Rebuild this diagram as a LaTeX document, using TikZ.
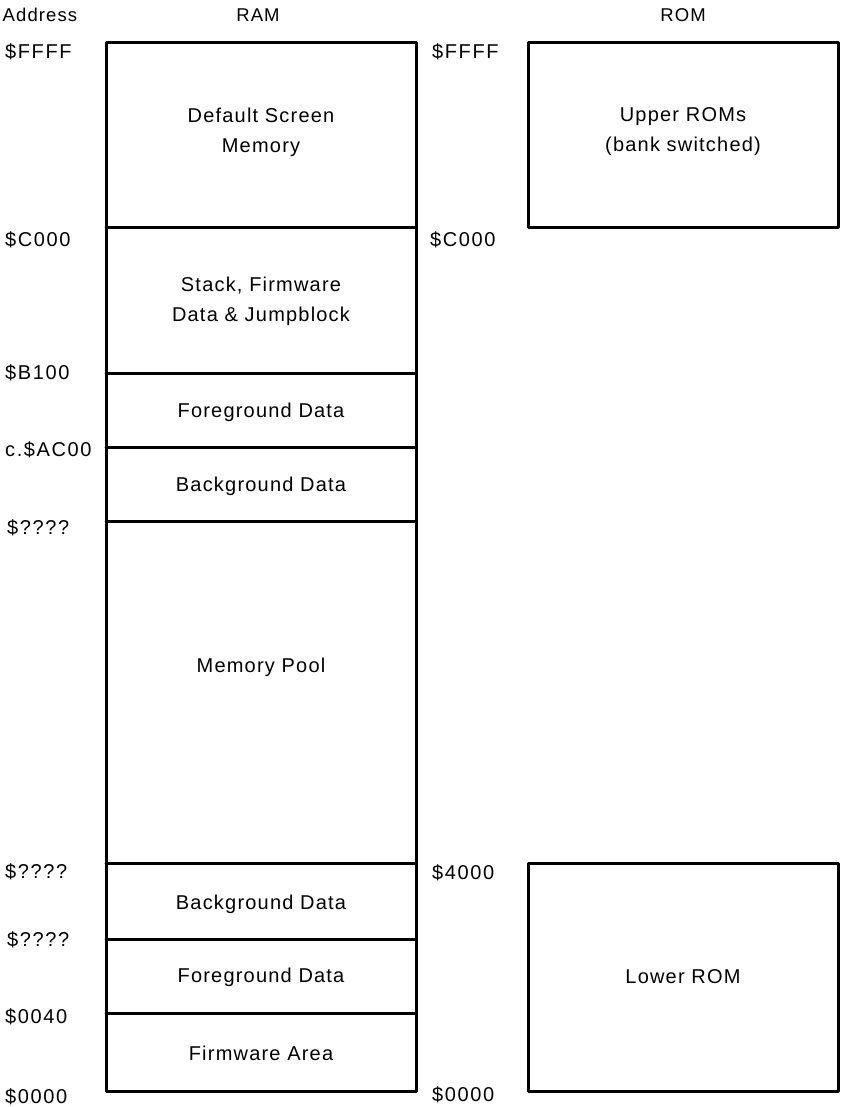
\documentclass[tikz,border=0pt]{standalone}
\usepackage{fontspec}
\setmainfont{Liberation Sans}
\newfontfamily\lblfont{Liberation Sans}[LetterSpace=6]
\newfontfamily\adrfont{Liberation Sans}[LetterSpace=8]
\begin{document}
\begin{tikzpicture}[x=1pt,y=-1pt,
  memline/.style={line width=3pt,line cap=round,line join=round},
  boxtext/.style={font=\lblfont\fontsize{20}{30}\selectfont,align=center,inner sep=0pt},
  adrtext/.style={font=\adrfont\fontsize{20}{22}\selectfont,anchor=west,inner sep=0pt},
  headtext/.style={font=\lblfont\fontsize{18.5}{20}\selectfont,inner sep=0pt}]
\useasboundingbox[fill=white] (0,0) rectangle (842,1107);

% headers
\node[headtext] (hAddr) at (40,15) {Address};
\node[headtext] (hRAM) at (258,15) {RAM};
\node[headtext] (hROM) at (683,15) {ROM};

% RAM column
\draw[memline] (106,43) rectangle (416,1091);
\foreach \yy in {228,373,447,521,863,939,1013}
  \draw[memline] (106,\yy) -- (416,\yy);

% ROM boxes
\draw[memline] (528,43) rectangle (838,228);
\draw[memline] (528,863) rectangle (838,1091);

% RAM contents
\node[boxtext] (scr) at (261,132) {Default Screen\\Memory};
\node[boxtext] (stk) at (261,301) {Stack, Firmware\\Data \& Jumpblock};
\node[boxtext] (fg1) at (261,412) {Foreground Data};
\node[boxtext] (bg1) at (261,486) {Background Data};
\node[boxtext] (pool) at (261,667) {Memory Pool};
\node[boxtext] (bg2) at (261,904) {Background Data};
\node[boxtext] (fg2) at (261,977) {Foreground Data};
\node[boxtext] (fw) at (261,1053) {Firmware Area};

% ROM contents
\node[boxtext] (urom) at (683,132) {Upper ROMs\\(bank switched)};
\node[boxtext] (lrom) at (683,977) {Lower ROM};

% addresses, left
\node[adrtext] (a1) at (5,52) {\$FFFF};
\node[adrtext] (a2) at (5,240) {\$C000};
\node[adrtext] (a3) at (5,373) {\$B100};
\node[adrtext] (a4) at (5,450) {c.\$AC00};
\node[adrtext] (a5) at (7,528) {\$????};
\node[adrtext] (a6) at (5,872) {\$????};
\node[adrtext] (a7) at (7,940) {\$????};
\node[adrtext] (a8) at (5,1017) {\$0040};
\node[adrtext] (a9) at (5,1097) {\$0000};

% addresses, middle
\node[adrtext] (m1) at (432,52) {\$FFFF};
\node[adrtext] (m2) at (430,240) {\$C000};
\node[adrtext] (m3) at (432,873) {\$4000};
\node[adrtext] (m4) at (432,1095) {\$0000};
\end{tikzpicture}
\end{document}
